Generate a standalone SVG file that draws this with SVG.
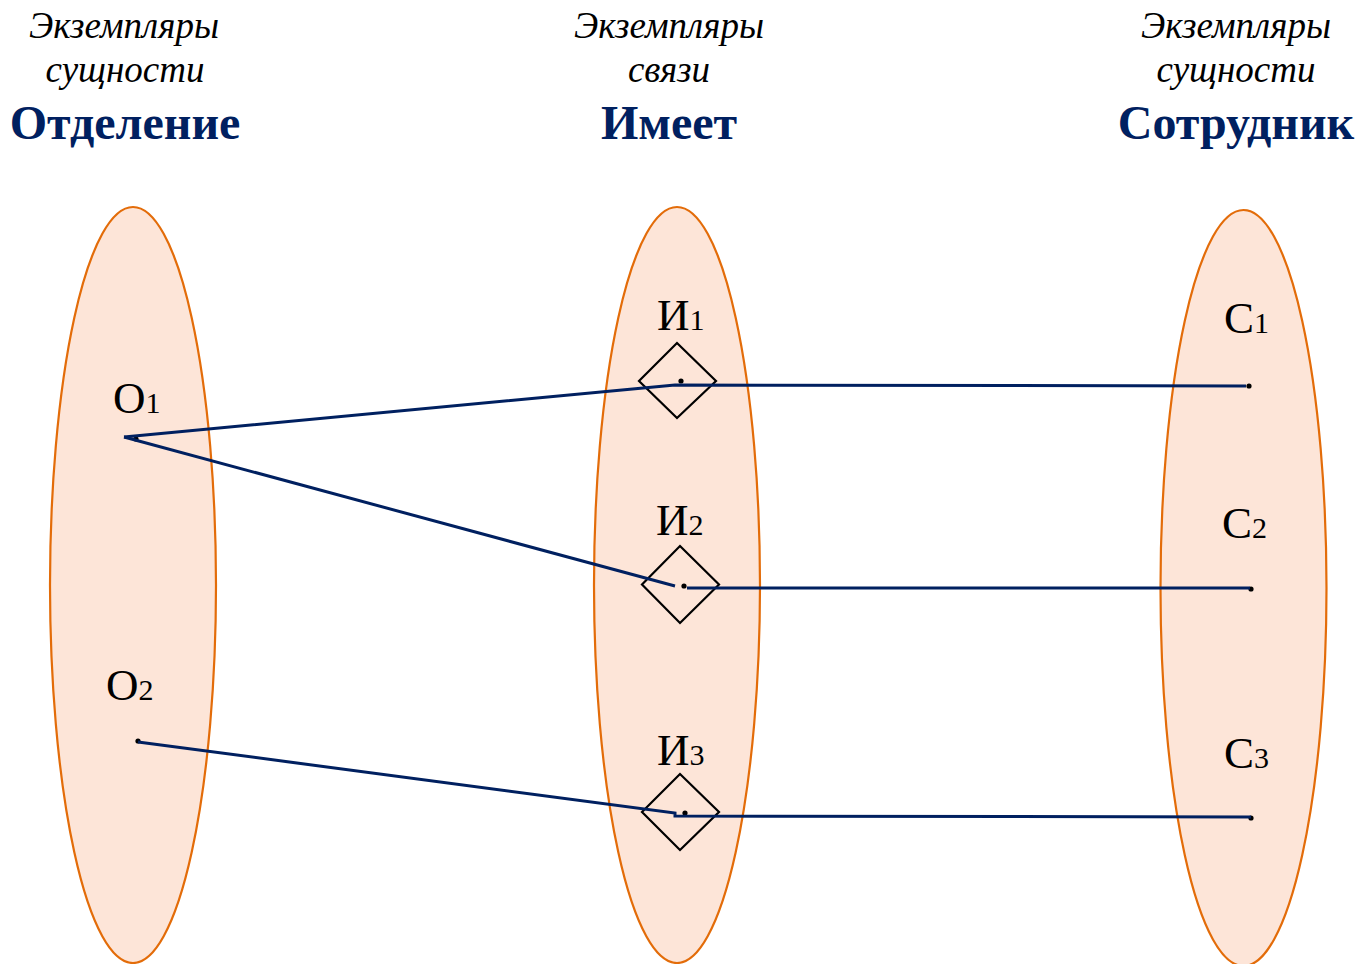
<svg xmlns="http://www.w3.org/2000/svg" width="1358" height="964" viewBox="0 0 1358 964">
  <style>
    .set { fill: #fde5d8; stroke: #e36c09; stroke-width: 2.2; }
    .cap { font-family: "Liberation Serif", "Times New Roman", serif; font-style: italic; font-size: 37px; fill: #000; text-anchor: middle; }
    .name { font-family: "Liberation Serif", "Times New Roman", serif; font-weight: bold; font-size: 48px; fill: #002060; text-anchor: middle; }
    .lbl { font-family: "Liberation Serif", "Times New Roman", serif; font-size: 45px; fill: #000; }
    .sub { font-size: 30px; }
    .rel { fill: none; stroke: #000; stroke-width: 2.2; }
    .link { fill: none; stroke: #002060; stroke-width: 3; }
    .pt { fill: #000; }
  </style>

  <!-- column headings -->
  <g id="head-dept">
    <text class="cap" x="124" y="38">Экземпляры</text>
    <text class="cap" x="125" y="82">сущности</text>
    <text class="name" x="125" y="139">Отделение</text>
  </g>
  <g id="head-has">
    <text class="cap" x="669" y="38">Экземпляры</text>
    <text class="cap" x="669" y="82">связи</text>
    <text class="name" x="669" y="139">Имеет</text>
  </g>
  <g id="head-emp">
    <text class="cap" x="1236" y="38">Экземпляры</text>
    <text class="cap" x="1236" y="82">сущности</text>
    <text class="name" x="1236" y="139">Сотрудник</text>
  </g>

  <!-- entity / relationship sets -->
  <g id="set-dept"><ellipse class="set" cx="133" cy="585" rx="83" ry="378"/></g>
  <g id="set-has"><ellipse class="set" cx="677" cy="585" rx="83" ry="378"/></g>
  <g id="set-emp"><ellipse class="set" cx="1243.5" cy="588" rx="83" ry="378"/></g>

  <!-- department instances -->
  <g id="o1">
    <text class="lbl" x="113" y="413">O<tspan class="sub">1</tspan></text>
    <circle class="pt" cx="136" cy="439" r="2.6"/>
  </g>
  <g id="o2">
    <text class="lbl" x="106" y="700">O<tspan class="sub">2</tspan></text>
    <circle class="pt" cx="138" cy="741" r="2.6"/>
  </g>

  <!-- relationship instances -->
  <g id="i1">
    <text class="lbl" x="657" y="330">И<tspan class="sub">1</tspan></text>
    <polygon class="rel" points="677,343 716,381 677,418 639,381"/>
    <circle class="pt" cx="681" cy="381" r="2.6"/>
  </g>
  <g id="i2">
    <text class="lbl" x="656" y="535">И<tspan class="sub">2</tspan></text>
    <polygon class="rel" points="680,546 719,584.5 680,623 642,584.5"/>
    <circle class="pt" cx="684" cy="586" r="2.6"/>
  </g>
  <g id="i3">
    <text class="lbl" x="657" y="765">И<tspan class="sub">3</tspan></text>
    <polygon class="rel" points="680,774 719,812 680,850 642,812"/>
    <circle class="pt" cx="685" cy="813" r="2.6"/>
  </g>

  <!-- employee instances -->
  <g id="c1">
    <text class="lbl" x="1224" y="333">C<tspan class="sub">1</tspan></text>
    <circle class="pt" cx="1249" cy="386" r="2.6"/>
  </g>
  <g id="c2">
    <text class="lbl" x="1222" y="538">C<tspan class="sub">2</tspan></text>
    <circle class="pt" cx="1251" cy="589" r="2.6"/>
  </g>
  <g id="c3">
    <text class="lbl" x="1224" y="768">C<tspan class="sub">3</tspan></text>
    <circle class="pt" cx="1251" cy="818" r="2.6"/>
  </g>

  <!-- links between instances -->
  <g id="links">
    <polyline class="link" points="124,437 675,385 1246,386"/>
    <line class="link" x1="124" y1="437" x2="675" y2="586"/>
    <line class="link" x1="687" y1="588" x2="1250" y2="588"/>
    <polyline class="link" points="138,742 675,813 675,816 1251,817"/>
  </g>
</svg>
